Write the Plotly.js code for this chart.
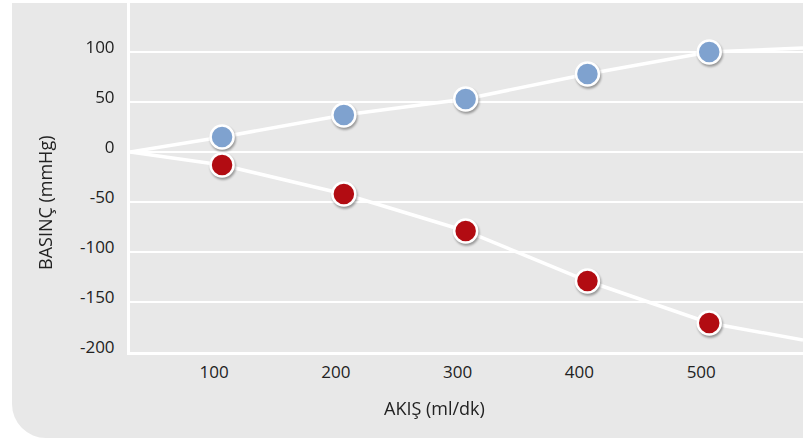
<!DOCTYPE html>
<html>
<head>
<meta charset="utf-8">
<script src="https://cdn.plot.ly/plotly-3.0.1.min.js"></script>
<style>
  html, body { margin: 0; padding: 0; background: #ffffff; }
  #bg { position: absolute; left: 12px; top: 3px; width: 791px; height: 435px;
        background: #e8e8e8; border-bottom-left-radius: 34px; }
  #chart { position: absolute; left: 0; top: 0; width: 811px; height: 439px; }
  .scatterlayer .points { filter: drop-shadow(1px 2px 1.2px rgba(0,0,0,0.35)); }
</style>
</head>
<body>
<div id="bg"></div>
<div id="chart"></div>
<script>
// Data
const flow = [100, 200, 300, 400, 500];            // AKIŞ (ml/dk)
const bluePressure = [15, 37, 53, 78, 100];         // upper series (mmHg)
const redPressure = [-13, -42, -79, -129, -171];    // lower series (mmHg)
const lineStartX = 24.4;   // lines start at the left edge at 0 mmHg
const lineEndX = 577;      // lines run to the right edge
const blueEnd = 104;
const redEnd = -188;
const xTicks = [100, 200, 300, 400, 500];
const yTicks = [-200, -150, -100, -50, 0, 50, 100];

const lineBlueX = [lineStartX].concat(flow, [lineEndX]);
const lineBlueY = [0].concat(bluePressure, [blueEnd]);
const lineRedX = [lineStartX].concat(flow, [lineEndX]);
const lineRedY = [0].concat(redPressure, [redEnd]);

const traces = [
  { x: lineBlueX, y: lineBlueY, mode: 'lines', line: { color: '#ffffff', width: 3.5 }, hoverinfo: 'skip' },
  { x: lineRedX, y: lineRedY, mode: 'lines', line: { color: '#ffffff', width: 3.5 }, hoverinfo: 'skip' },
  { x: flow, y: bluePressure, mode: 'markers',
    marker: { size: 23, color: '#7fa2cf', line: { color: '#ffffff', width: 2.5 } } },
  { x: flow, y: redPressure, mode: 'markers',
    marker: { size: 23, color: '#b20c12', line: { color: '#ffffff', width: 2.5 } } }
];

const layout = {
  width: 811, height: 439,
  margin: { l: 130, r: 8, t: 3, b: 87, pad: 0 },
  paper_bgcolor: 'rgba(0,0,0,0)',
  plot_bgcolor: 'rgba(0,0,0,0)',
  showlegend: false,
  font: { family: 'Open Sans, sans-serif', size: 17, color: '#222222' },
  xaxis: {
    range: [lineStartX, lineEndX],
    tickmode: 'array', tickvals: xTicks, ticktext: xTicks.map(String),
    showgrid: false, zeroline: false,
    showline: true, linecolor: '#ffffff', linewidth: 3,
    ticks: '', ticklabelstandoff: 3, ticklabelshift: -8
  },
  yaxis: {
    range: [-200, 149],
    tickmode: 'array', tickvals: yTicks, ticktext: yTicks.map(String),
    showgrid: true, gridcolor: '#ffffff', gridwidth: 2.5,
    zeroline: false,
    showline: true, linecolor: '#ffffff', linewidth: 3,
    ticks: '', ticklabelstandoff: 9, ticklabelshift: -5
  },
  annotations: [
    { text: 'AKIŞ (ml/dk)', xref: 'paper', yref: 'paper', x: (434 - 130) / 673, y: -(408 - 352) / 349,
      xanchor: 'center', yanchor: 'middle', showarrow: false, font: { size: 18, color: '#222222' } },
    { text: 'BASINÇ (mmHg)', xref: 'paper', yref: 'paper', x: -(130 - 45) / 673, y: (352 - 203) / 349,
      xanchor: 'center', yanchor: 'middle', textangle: -90, showarrow: false, font: { size: 18, color: '#222222' } }
  ]
};

Plotly.newPlot('chart', traces, layout, { displayModeBar: false, staticPlot: true });
</script>
</body>
</html>
